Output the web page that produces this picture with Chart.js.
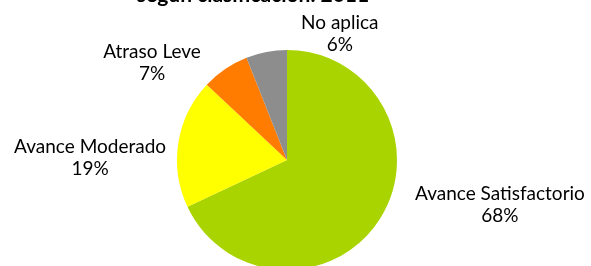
<!DOCTYPE html>
<html>
<head>
<meta charset="utf-8">
<script src="https://cdn.jsdelivr.net/npm/chart.js@4"></script>
<style>
  html, body { margin: 0; padding: 0; background: #fff; overflow: hidden; }
  #wrap { width: 591px; height: 266px; overflow: hidden; }
</style>
</head>
<body>
<div id="wrap">
  <canvas id="pieChart" width="591" height="280"></canvas>
</div>
<script>
const titleText = "según clasificación. 2011";

const categories = ["Avance Satisfactorio", "Avance Moderado", "Atraso Leve", "No aplica"];
const shares = [68, 19, 7, 6];
const sliceColors = ["#aad400", "#ffff00", "#ff7c00", "#8d8d8d"];

// where each label sits, as (dx, dy) in pie radii from the centre
const labelSpots = [[1.936, 0.41], [-1.79, -0.02], [-1.227, -0.882], [0.48, -1.145]];

const fontFamily = "Lato, 'Liberation Sans', sans-serif";

const pieLabels = {
  id: "pieLabels",
  afterDatasetsDraw(chart) {
    const ctx = chart.ctx;
    const arcs = chart.getDatasetMeta(0).data;
    if (!arcs.length) return;
    const cx = arcs[0].x;
    const cy = arcs[0].y;
    const r = arcs[0].outerRadius;
    const total = shares.reduce((a, b) => a + b, 0);

    ctx.save();
    ctx.fillStyle = "#000";
    ctx.textAlign = "center";
    ctx.textBaseline = "alphabetic";
    ctx.font = "19px " + fontFamily;
    categories.forEach((name, i) => {
      const x = cx + labelSpots[i][0] * r;
      const y = cy + labelSpots[i][1] * r;
      ctx.fillText(name, x, y - 5);
      ctx.fillText(Math.round(shares[i] / total * 100) + "%", x, y + 17);
    });

    // title, mostly cut off above the picture
    ctx.font = "bold 21px " + fontFamily;
    ctx.fillText(titleText, cx - 34, cy - r - 48);
    ctx.restore();
  }
};

new Chart(document.getElementById("pieChart"), {
  type: "pie",
  data: {
    labels: categories,
    datasets: [{
      data: shares,
      backgroundColor: sliceColors,
      borderWidth: 0,
      hoverOffset: 0
    }]
  },
  options: {
    responsive: false,
    animation: false,
    events: [],
    layout: { padding: { top: 50, bottom: 10, left: 0, right: 17 } },
    plugins: {
      legend: { display: false },
      tooltip: { enabled: false },
      title: { display: false }
    }
  },
  plugins: [pieLabels]
});
</script>
</body>
</html>
